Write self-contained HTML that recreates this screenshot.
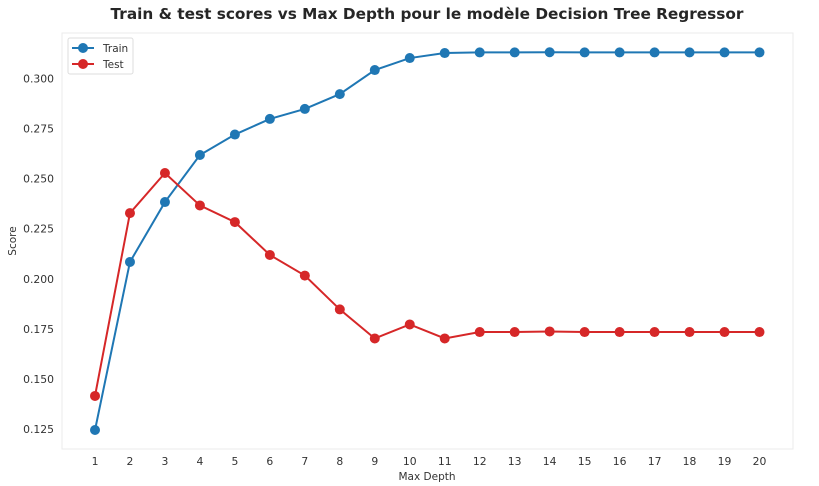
<!DOCTYPE html>
<html><head><meta charset="utf-8"><style>
html,body{margin:0;padding:0;background:#fff;width:819px;height:486px;overflow:hidden}
svg{font-family:"DejaVu Sans","Liberation Sans",sans-serif}
</style></head><body>
<svg id="chart" width="819" height="486">
<text x="427" y="19" text-anchor="middle" font-size="15.3" font-weight="bold" fill="#262626">Train &amp; test scores vs Max Depth pour le modèle Decision Tree Regressor</text>
<rect x="62" y="33" width="731" height="416" fill="#fff" stroke="#ebebeb" stroke-width="1"/>
<g id="yticks"></g><g id="xticks"></g><g id="series"></g>
<text x="427" y="480" text-anchor="middle" font-size="10.5" fill="#333">Max Depth</text>
<text transform="translate(16,241) rotate(-90)" text-anchor="middle" font-size="10.5" fill="#333">Score</text>
<g>
<rect x="68" y="38" width="65" height="36" fill="#fff" stroke="#ddd" rx="2"/>
<g><line x1="72" y1="48" x2="94" y2="48" stroke="#1f77b4" stroke-width="2"/><circle cx="83" cy="48" r="5" fill="#1f77b4"/><text x="103" y="52" font-size="10.5" fill="#333">Train</text></g>
<g><line x1="72" y1="64" x2="94" y2="64" stroke="#d62728" stroke-width="2"/><circle cx="83" cy="64" r="5" fill="#d62728"/><text x="103" y="68" font-size="10.5" fill="#333">Test</text></g>
</g>
</svg>
<script>
const depths=[1,2,3,4,5,6,7,8,9,10,11,12,13,14,15,16,17,18,19,20];
const trainScores=[0.1245,0.2084,0.2383,0.2618,0.2720,0.2798,0.2848,0.2922,0.3042,0.3102,0.3127,0.3130,0.3130,0.3131,0.3130,0.3130,0.3130,0.3130,0.3130,0.3130];
const testScores=[0.1415,0.2328,0.2528,0.2366,0.2283,0.2119,0.2016,0.1847,0.1702,0.1772,0.1702,0.1734,0.1734,0.1737,0.1734,0.1734,0.1734,0.1734,0.1734,0.1734];
const yTicks=[0.125,0.150,0.175,0.200,0.225,0.250,0.275,0.300];
const NS="http://www.w3.org/2000/svg";
function xs(d){return 95+(d-1)*(664.5/19);}
function ys(v){return 429-(v-0.125)*2003;}
function mk(tag,attrs,parent){const e=document.createElementNS(NS,tag);for(const k in attrs)e.setAttribute(k,attrs[k]);parent.appendChild(e);return e;}
const yg=document.getElementById('yticks'),xg=document.getElementById('xticks'),sg=document.getElementById('series');
yTicks.forEach(t=>{const e=mk('text',{x:54,y:ys(t)+4,'text-anchor':'end','font-size':'10.8',fill:'#333'},yg);e.textContent=t.toFixed(3);

});
depths.forEach(d=>{const e=mk('text',{x:xs(d),y:465,'text-anchor':'middle','font-size':'10.8',fill:'#333'},xg);e.textContent=d;

});
function series(vals,color,name){
const g=mk('g',{},sg);


const pl=mk('polyline',{points:vals.map((v,i)=>xs(depths[i])+','+ys(v)).join(' '),fill:'none',stroke:color,'stroke-width':2},g);


vals.forEach((v,i)=>{const c=mk('circle',{cx:xs(depths[i]),cy:ys(v),r:5,fill:color},g);

});
}
series(trainScores,'#1f77b4','train');
series(testScores,'#d62728','test');
</script>
</body></html>
